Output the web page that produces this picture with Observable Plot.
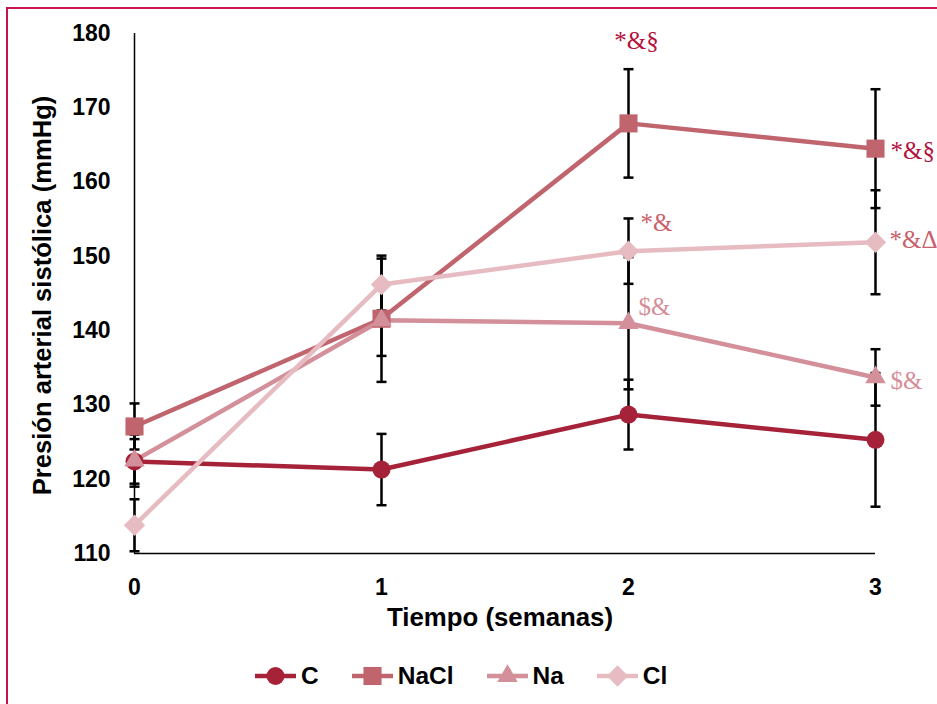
<!DOCTYPE html>
<html>
<head>
<meta charset="utf-8">
<script src="https://cdn.jsdelivr.net/npm/d3@7"></script>
<script src="https://cdn.jsdelivr.net/npm/@observablehq/plot@0.6"></script>
<style>
  html, body { margin: 0; padding: 0; background: #fff; overflow: hidden; width: 937px; height: 704px; }
  body { font-family: "Liberation Sans", Arial, sans-serif; position: relative; }
  #frame { position: absolute; left: 6px; top: 7px; width: 1000px; height: 800px; border-left: 2px solid #C8144A; border-top: 2px solid #C8144A; box-sizing: border-box; }
  #chart { position: absolute; left: 0; top: 0; }
  #legend { position: absolute; left: 255px; top: 662px; display: flex; align-items: center; font-weight: bold; font-size: 24.5px; color: #000; }
  .item { display: flex; align-items: center; margin-right: 33px; }
  .item svg { display: block; margin-right: 5px; }
</style>
</head>
<body>
<div id="frame"></div>
<div id="chart"></div>
<div id="legend"></div>
<script>
// ---- data ----
const weeks = [0, 1, 2, 3];
const seriesNames = ["C", "NaCl", "Na", "Cl"];
const valuesC    = [122.4, 121.3, 128.7, 125.3];
const valuesNaCl = [127.1, 141.6, 167.9, 164.5];
const valuesNa   = [122.5, 141.4, 141.0, 133.7];
const valuesCl   = [113.8, 146.2, 150.7, 151.9];
const errC    = [3.0, 4.8, 4.7, 9.0];
const errNaCl = [3.1, 8.5, 7.3, 8.0];
const errNa   = [3.5, 4.8, 8.9, 3.8];
const errCl   = [3.5, 3.5, 4.4, 7.0];
const yTicks = [110, 120, 130, 140, 150, 160, 170, 180];
const xTicks = [0, 1, 2, 3];
const annotSeries = ["NaCl", "NaCl", "Cl", "Cl", "Na", "Na"];
const annotWeek   = [2, 3, 2, 3, 2, 3];
const annotText   = ["*&§", "*&§", "*&", "*&Δ", "$&", "$&"];
const yLabel = "Presión arterial sistólica (mmHg)";
const xLabel = "Tiempo (semanas)";

// ---- styles ----
const colors = ["#A52238", "#C0646E", "#D4909A", "#E6BCC2"];
const symbols = ["circle", "square", "triangle", "diamond2"];
const radius = {C: 9, NaCl: 10.2, Na: 7.6, Cl: 9.6};
const annotColor = ["#B3123E", "#B3123E", "#C9606C", "#C9606C", "#D58D96", "#D58D96"];
const annotOffset = [
  {dx: 8, dy: -28, anchor: "middle", onErr: true},
  {dx: 15, dy: 2, anchor: "start"},
  {dx: 12, dy: -28, anchor: "start"},
  {dx: 14, dy: -2, anchor: "start"},
  {dx: 10, dy: -16, anchor: "start"},
  {dx: 15, dy: 4, anchor: "start"}
];

const allValues = [valuesC, valuesNaCl, valuesNa, valuesCl];
const allErr = [errC, errNaCl, errNa, errCl];
const data = seriesNames.flatMap((s, i) => weeks.map((w, j) => ({
  series: s, week: w, value: allValues[i][j], se: allErr[i][j]
})));

const capSymbol = {
  draw(context) { context.moveTo(-5, 0); context.lineTo(5, 0); }
};

const annotMarks = annotText.map((t, k) => {
  const si = seriesNames.indexOf(annotSeries[k]);
  const wi = weeks.indexOf(annotWeek[k]);
  const o = annotOffset[k];
  const yv = allValues[si][wi] + (o.onErr ? allErr[si][wi] : 0);
  return Plot.text([{week: annotWeek[k], y: yv, t}], {
    x: "week", y: "y", text: "t", fill: annotColor[k], dx: o.dx, dy: o.dy,
    textAnchor: o.anchor, lineAnchor: "middle",
    fontFamily: "Liberation Serif, Times New Roman, serif", fontSize: 25
  });
});

const chart = Plot.plot({
  width: 937,
  height: 640,
  marginLeft: 134,
  marginRight: 62,
  marginTop: 33,
  marginBottom: 87,
  style: {fontFamily: "Liberation Sans, Arial, sans-serif", color: "#000", background: "transparent", overflow: "visible"},
  x: {domain: [0, 3]},
  y: {domain: [110, 180]},
  color: {domain: seriesNames, range: colors},
  symbol: {domain: seriesNames, range: symbols},
  r: {type: "identity"},
  marks: [
    Plot.axisY({ticks: yTicks, tickSize: 0, tickPadding: 24, fontSize: 23, fontWeight: "bold", label: null}),
    Plot.axisX({ticks: xTicks, tickSize: 0, tickPadding: 25, fontSize: 23, fontWeight: "bold", label: null, tickFormat: d3.format("d")}),
    Plot.ruleX([0], {y1: 110, y2: 180, stroke: "#000", strokeWidth: 1.5}),
    Plot.ruleY([110], {x1: 0, x2: 3, stroke: "#000", strokeWidth: 1.5}),
    Plot.text([yLabel], {frameAnchor: "left", textAnchor: "middle", lineAnchor: "middle", rotate: -90, dx: -92, dy: 2, fontSize: 25.6, fontWeight: "bold", fill: "#000"}),
    Plot.text([xLabel], {frameAnchor: "bottom", dx: -5, dy: 64, lineAnchor: "middle", fontSize: 25.8, fontWeight: "bold", fill: "#000"}),
    Plot.line(data, {x: "week", y: "value", z: "series", stroke: "series", strokeWidth: 4.5}),
    Plot.ruleX(data, {x: "week", y1: d => d.value - d.se, y2: d => d.value + d.se, stroke: "#000", strokeWidth: 2.5}),
    Plot.dot(data, {x: "week", y: d => d.value + d.se, symbol: capSymbol, stroke: "#000", strokeWidth: 2.5, r: 5}),
    Plot.dot(data, {x: "week", y: d => d.value - d.se, symbol: capSymbol, stroke: "#000", strokeWidth: 2.5, r: 5}),
    Plot.dot(data, {x: "week", y: "value", fill: "series", symbol: "series", r: d => radius[d.series], stroke: "none"}),
    ...annotMarks
  ]
});
document.getElementById("chart").appendChild(chart);

// ---- legend ----
const legend = document.getElementById("legend");
seriesNames.forEach((s, i) => {
  const item = document.createElement("div");
  item.className = "item";
  const svg = d3.create("svg").attr("width", 41).attr("height", 28);
  svg.append("line").attr("x1", 0).attr("x2", 41).attr("y1", 14).attr("y2", 14)
    .attr("stroke", colors[i]).attr("stroke-width", 4.5);
  const typeMap = {circle: d3.symbolCircle, square: d3.symbolSquare, triangle: d3.symbolTriangle, diamond2: d3.symbolDiamond2};
  const r = radius[s];
  svg.append("path").attr("transform", "translate(20.5,14)")
    .attr("d", d3.symbol(typeMap[symbols[i]], Math.PI * r * r)())
    .attr("fill", colors[i]);
  item.appendChild(svg.node());
  const label = document.createElement("span");
  label.textContent = s;
  item.appendChild(label);
  legend.appendChild(item);
});
</script>
</body>
</html>
